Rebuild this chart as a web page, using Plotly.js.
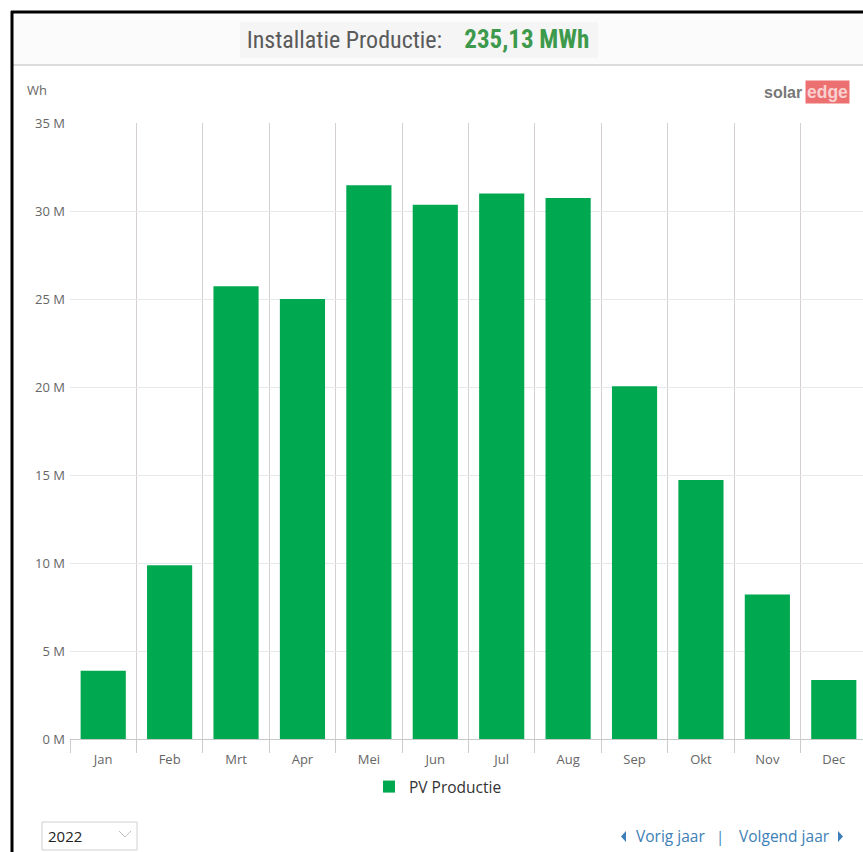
<!DOCTYPE html>
<html>
<head>
<meta charset="utf-8">
<script src="https://cdn.plot.ly/plotly-3.0.1.min.js"></script>
<style>html,body{margin:0;padding:0;background:#fff;}#chart{width:863px;height:852px;}</style>
</head>
<body>
<div id="chart"></div>
<script>
// ---- data ----
var months = ["Jan","Feb","Mrt","Apr","Mei","Jun","Jul","Aug","Sep","Okt","Nov","Dec"];
var productionMWh = [3.88, 9.87, 25.72, 25.00, 31.47, 30.36, 30.99, 30.74, 20.04, 14.71, 8.21, 3.35];
var yTickVals = [0, 5, 10, 15, 20, 25, 30, 35];
var yTickText = ["0 M","5 M","10 M","15 M","20 M","25 M","30 M","35 M"];
var seriesName = "PV Productie";
var totalLabel = "Installatie Productie:";
var totalValue = "235,13 MWh";
var yearLabel = "2022";

// ---- layout helpers ----
var W = 863, H = 852;
var L = 70, R = 0, T = 123, B = 113;
var pw = W - L - R, ph = H - T - B;
function fx(px){ return (px - L) / pw; }
function fy(py){ return 1 - (py - T) / ph; }

var green = "#00a84f";
var blue = "#3d7fb6";
var font = "'Open Sans', 'DejaVu Sans', sans-serif";

var trace = {
  type: "bar",
  x: months,
  y: productionMWh,
  name: seriesName,
  marker: {color: green, line: {width: 0}},
  hoverinfo: "x+y",
  showlegend: true
};

var shapes = [
  // header background
  {type:"rect", xref:"paper", yref:"paper", x0:fx(12), x1:fx(870), y0:fy(12), y1:fy(65), fillcolor:"#fbfbfb", line:{width:0}, layer:"below"},
  {type:"line", xref:"paper", yref:"paper", x0:fx(12), x1:fx(870), y0:fy(65), y1:fy(65), line:{color:"#d2d2d2", width:1.5}},
  // title box
  {type:"rect", xref:"paper", yref:"paper", x0:fx(240), x1:fx(598), y0:fy(22), y1:fy(58), fillcolor:"#f5f5f5", line:{width:0}, layer:"below"},
  // black frame
  {type:"line", xref:"paper", yref:"paper", x0:fx(12), x1:fx(12), y0:fy(11), y1:fy(860), line:{color:"#000", width:3}},
  {type:"line", xref:"paper", yref:"paper", x0:fx(11), x1:fx(870), y0:fy(12), y1:fy(12), line:{color:"#000", width:3}},
  // year dropdown box
  {type:"rect", xref:"paper", yref:"paper", x0:fx(42), x1:fx(137), y0:fy(822), y1:fy(850), fillcolor:"#fff", line:{color:"#d0d0d0", width:1}},
  {type:"path", xref:"paper", yref:"paper",
   path:"M"+fx(119)+","+fy(831)+" L"+fx(125)+","+fy(837)+" L"+fx(131)+","+fy(831),
   line:{color:"#c0c0c0", width:1}},
  // navigation triangles
  {type:"path", xref:"paper", yref:"paper",
   path:"M"+fx(626)+","+fy(831)+" L"+fx(621)+","+fy(836.5)+" L"+fx(626)+","+fy(842)+" Z",
   fillcolor:blue, line:{width:0}},
  {type:"path", xref:"paper", yref:"paper",
   path:"M"+fx(838)+","+fy(831)+" L"+fx(843)+","+fy(836.5)+" L"+fx(838)+","+fy(842)+" Z",
   fillcolor:blue, line:{width:0}}
];

var annotations = [
  {xref:"paper", yref:"paper", x:fx(25), y:fy(90), xanchor:"left", yanchor:"middle", text:"Wh", showarrow:false, font:{family:font, size:13, color:"#666"}},
  {xref:"paper", yref:"paper", x:fx(804), y:fy(92), xanchor:"right", yanchor:"middle", text:"<b>solar</b>", showarrow:false, font:{family:"'Liberation Sans', Arial, sans-serif", size:16, color:"#777"}},
  {xref:"paper", yref:"paper", x:fx(805), y:fy(92), xanchor:"left", yanchor:"middle", text:"<b>edge</b>", showarrow:false, bgcolor:"#ec7070", borderpad:1, font:{family:"'Liberation Sans', Arial, sans-serif", size:17.5, color:"#f9d0d0"}},
  {xref:"paper", yref:"paper", x:fx(46), y:fy(836), xanchor:"left", yanchor:"middle", text:yearLabel, showarrow:false, font:{family:font, size:15, color:"#222"}},
  {xref:"paper", yref:"paper", x:fx(634), y:fy(836), xanchor:"left", yanchor:"middle", text:"Vorig jaar", showarrow:false, font:{family:font, size:15.5, color:blue}},
  {xref:"paper", yref:"paper", x:fx(720), y:fy(836), xanchor:"center", yanchor:"middle", text:"|", showarrow:false, font:{family:font, size:15, color:blue}},
  {xref:"paper", yref:"paper", x:fx(832), y:fy(836), xanchor:"right", yanchor:"middle", text:"Volgend jaar", showarrow:false, font:{family:font, size:15.5, color:blue}}
];

var layout = {
  width: W, height: H,
  margin: {l:L, r:R, t:T, b:B, pad:0},
  paper_bgcolor: "#fff",
  plot_bgcolor: "#fff",
  title: {
    text: "<span style='font-weight:normal'>" + totalLabel + "</span>    <span style='color:#3d9a4c;font-weight:bold;font-size:25px'>" + totalValue + "</span>",
    xref: "container", yref: "container",
    x: 418 / W, xanchor: "center",
    y: 1 - 40 / H, yanchor: "middle",
    font: {family:"'Liberation Sans Narrow', 'Roboto Condensed', Roboto, sans-serif", size:24, color:"#5a5a5a", weight:"normal"}
  },
  bargap: 0.32,
  xaxis: {
    type: "category",
    range: [-0.5, 11.44],
    tickson: "boundaries",
    ticks: "outside", ticklen: 13, tickcolor: "#cccccc", tickwidth: 1,
    ticklabelstandoff: 8,
    showgrid: true, gridcolor: "#d6cfcf", gridwidth: 1,
    showline: true, linecolor: "#c8c8c8", linewidth: 1,
    tickfont: {family:font, size:13, color:"#666"},
    fixedrange: true
  },
  yaxis: {
    range: [0, 35],
    tickvals: yTickVals, ticktext: yTickText,
    showgrid: true, gridcolor: "#e3e9ed", gridwidth: 1,
    zeroline: false, showline: false,
    ticks: "", ticklabelstandoff: 4,
    tickfont: {family:font, size:13, color:"#666"},
    fixedrange: true
  },
  showlegend: true,
  legend: {
    orientation: "h",
    x: fx(438), xanchor: "center",
    y: fy(787), yanchor: "middle",
    font: {family:font, size:15.5, color:"#333"},
    bgcolor: "rgba(0,0,0,0)"
  },
  shapes: shapes,
  annotations: annotations
};

Plotly.newPlot("chart", [trace], layout, {displayModeBar:false, staticPlot:true});
</script>
</body>
</html>
